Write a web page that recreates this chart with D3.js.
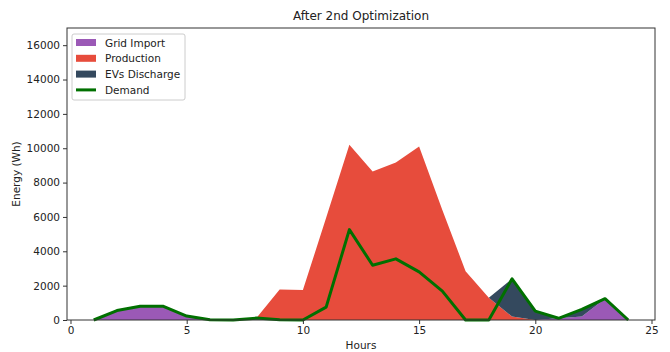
<!DOCTYPE html>
<head>
<meta charset="utf-8">
<script src="https://d3js.org/d3.v7.min.js"></script>
<style>
body { margin: 0; background: #fff; }
text { font-family: "DejaVu Sans", sans-serif; fill: #222; }
</style>
</head>
<body>
<div id="my_dataviz"></div>
<script>

// values
var hours = [1,2,3,4,5,6,7,8,9,10,11,12,13,14,15,16,17,18,19,20,21,22,23,24];
var gridImport = [0,550,800,800,230,20,0,110,0,0,0,0,0,0,0,0,0,0,0,0,100,200,1240,0];
var production = [0,0,0,0,0,0,0,0,1780,1740,5950,10200,8650,9170,10100,6400,2840,1300,200,0,0,0,0,0];
var evDischarge = [0,0,0,0,0,0,0,0,0,0,0,0,0,0,0,0,0,0,2200,520,40,420,0,0];
var demand = [0,550,800,800,230,20,0,110,20,0,750,5260,3190,3560,2800,1680,0,0,2400,520,100,620,1240,0];
var yTicks = [0,2000,4000,6000,8000,10000,12000,14000,16000];
var xTicks = [0,5,10,15,20,25];

var margin = {top: 28, right: 15, bottom: 32, left: 67},
  width = 655 - 67,
  height = 320 - 28;

var svg = d3.select("#my_dataviz")
  .append("svg")
    .attr("width", 670)
    .attr("height", 352)
  .append("g")
    .attr("transform", "translate(" + margin.left + "," + margin.top + ")");

var x = d3.scaleLinear().domain([-0.15, 25.15]).range([0, width]);
var y = d3.scaleLinear().domain([0, 17000]).range([height, 0]);

// build table for the stack
var table = hours.map(function(h, i) {
  return {hour: h, grid: gridImport[i], prod: production[i], ev: evDischarge[i]};
});
var keys = ["grid", "prod", "ev"];
var colors = {grid: "#9b59b6", prod: "#e74c3c", ev: "#34495e"};
var stacked = d3.stack().keys(keys)(table);

var area = d3.area()
  .x(function(d) { return x(d.data.hour); })
  .y0(function(d) { return y(d[0]); })
  .y1(function(d) { return y(d[1]); });

svg.selectAll(".layer")
  .data(stacked)
  .enter()
  .append("path")
    .attr("class", "layer")
    .attr("d", area)
    .style("fill", function(d) { return colors[d.key]; });

// demand line
var line = d3.line()
  .x(function(d, i) { return x(hours[i]); })
  .y(function(d) { return y(d); });
svg.append("path")
  .datum(demand)
  .attr("d", line)
  .style("fill", "none")
  .style("stroke", "#007000")
  .style("stroke-width", 3)
  .style("stroke-linejoin", "round");

// axes
var xAxis = svg.append("g")
  .attr("transform", "translate(0," + height + ")")
  .call(d3.axisBottom(x).tickValues(xTicks).tickSize(4).tickPadding(3).tickFormat(d3.format("d")));
var yAxis = svg.append("g")
  .call(d3.axisLeft(y).tickValues(yTicks).tickSize(4).tickPadding(3).tickFormat(d3.format("d")));
[xAxis, yAxis].forEach(function(a) {
  a.select(".domain").remove();
  a.selectAll("line").style("stroke", "#333");
  a.selectAll("text").style("font-size", "10.5px").style("fill", "#222").style("font-family", "DejaVu Sans, sans-serif");
});

// frame
svg.append("rect")
  .attr("x", 0).attr("y", 0)
  .attr("width", width).attr("height", height)
  .style("fill", "none")
  .style("stroke", "#333")
  .style("stroke-width", 1);

// title and labels
svg.append("text")
  .attr("x", width / 2)
  .attr("y", -8)
  .attr("text-anchor", "middle")
  .style("font-size", "12px")
  .text("After 2nd Optimization");
svg.append("text")
  .attr("x", width / 2)
  .attr("y", height + 29)
  .attr("text-anchor", "middle")
  .style("font-size", "10.5px")
  .text("Hours");
svg.append("text")
  .attr("transform", "translate(" + (-47) + "," + (height / 2) + ") rotate(-90)")
  .attr("text-anchor", "middle")
  .style("font-size", "10.5px")
  .text("Energy (Wh)");

// legend
var legendItems = [
  {label: "Grid Import", color: colors.grid, type: "patch"},
  {label: "Production", color: colors.prod, type: "patch"},
  {label: "EVs Discharge", color: colors.ev, type: "patch"},
  {label: "Demand", color: "#007000", type: "line"}
];
var legend = svg.append("g").attr("transform", "translate(5,6)");
legend.append("rect")
  .attr("width", 113).attr("height", 66)
  .attr("rx", 2)
  .style("fill", "white").style("fill-opacity", 0.8)
  .style("stroke", "#ccc");
legendItems.forEach(function(it, i) {
  var cy = 8.5 + i * 15.8;
  if (it.type === "patch") {
    legend.append("rect")
      .attr("x", 4).attr("y", cy - 3.5)
      .attr("width", 20).attr("height", 7)
      .style("fill", it.color);
  } else {
    legend.append("line")
      .attr("x1", 4).attr("x2", 24)
      .attr("y1", cy).attr("y2", cy)
      .style("stroke", it.color).style("stroke-width", 3);
  }
  legend.append("text")
    .attr("x", 33).attr("y", cy + 4)
    .style("font-size", "10.5px")
    .text(it.label);
});

</script>
</body>
